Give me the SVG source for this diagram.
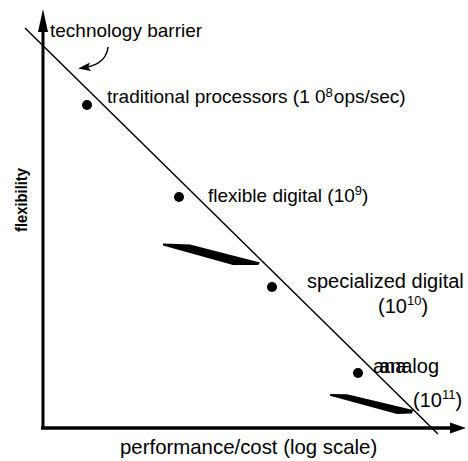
<svg xmlns="http://www.w3.org/2000/svg" width="468" height="461" viewBox="0 0 468 461">
<style>
text{font-family:"Liberation Sans",Arial,sans-serif;fill:#000;}
.lbl{font-size:19px;}
.big{font-size:20px;}
.dot{fill:#000;}
.wedge{fill:#000;}
</style>
<rect width="468" height="461" fill="#fff"/>
<g id="connectors">
  <g id="y-axis">
    <line x1="43" y1="429" x2="43" y2="28" stroke="#000" stroke-width="3"/>
    <polygon points="43,9 38,32 48,32" fill="#000"/>
  </g>
  <g id="x-axis">
    <line x1="41" y1="428" x2="452" y2="428" stroke="#000" stroke-width="3.5"/>
    <polygon points="466,428 450,422.5 450,433.5" fill="#000"/>
  </g>
  <line id="barrier-line" x1="25" y1="28" x2="438" y2="434" stroke="#000" stroke-width="1.5"/>
  <g id="barrier-arrow">
    <path d="M108,47 C107,57 100,64 88,67" fill="none" stroke="#000" stroke-width="1.5"/>
    <polygon points="78,68.5 90,62.5 88,67 91,71" fill="#000"/>
  </g>
  <polygon class="wedge" points="163,243.5 190,244.5 260,262.5 258,265 233,265 163,245.5"/>
  <polygon class="wedge" points="330,394 347,394.3 413,410 412,413.5 397,414 330,395.8"/>
</g>
<g id="label-technology-barrier"><text class="lbl" x="50" y="37">technology barrier</text></g>
<g id="node-traditional">
  <circle class="dot" cx="87" cy="105" r="5"/>
  <text class="lbl" x="107" y="103">traditional processors (1 0<tspan font-size="13" dy="-6">8</tspan><tspan dy="6" dx="1">ops/sec)</tspan></text>
</g>
<g id="node-flexible">
  <circle class="dot" cx="179" cy="197" r="5"/>
  <text class="lbl" x="208" y="202">flexible digital (10<tspan font-size="13" dy="-7">9</tspan><tspan dy="7">)</tspan></text>
</g>
<g id="node-specialized">
  <circle class="dot" cx="272" cy="287" r="5"/>
  <text class="big" x="307" y="288">specialized digital</text>
  <text class="big" x="378" y="313">(10<tspan font-size="13" dy="-8">10</tspan><tspan dy="8">)</tspan></text>
</g>
<g id="node-analog">
  <circle class="dot" cx="358" cy="373" r="5"/>
  <text class="big" x="379" y="373">analog</text>
  <text class="big" x="373" y="373">ana</text>
  <text class="big" x="413" y="407">(10<tspan font-size="13" dy="-8">11</tspan><tspan dy="8">)</tspan></text>
</g>
<g id="axis-labels">
  <text x="120" y="454" font-size="20.4">performance/cost (log scale)</text>
  <text transform="translate(27,200) rotate(-90)" text-anchor="middle" font-size="17" font-weight="bold" textLength="64" lengthAdjust="spacingAndGlyphs">flexibility</text>
</g>
</svg>
